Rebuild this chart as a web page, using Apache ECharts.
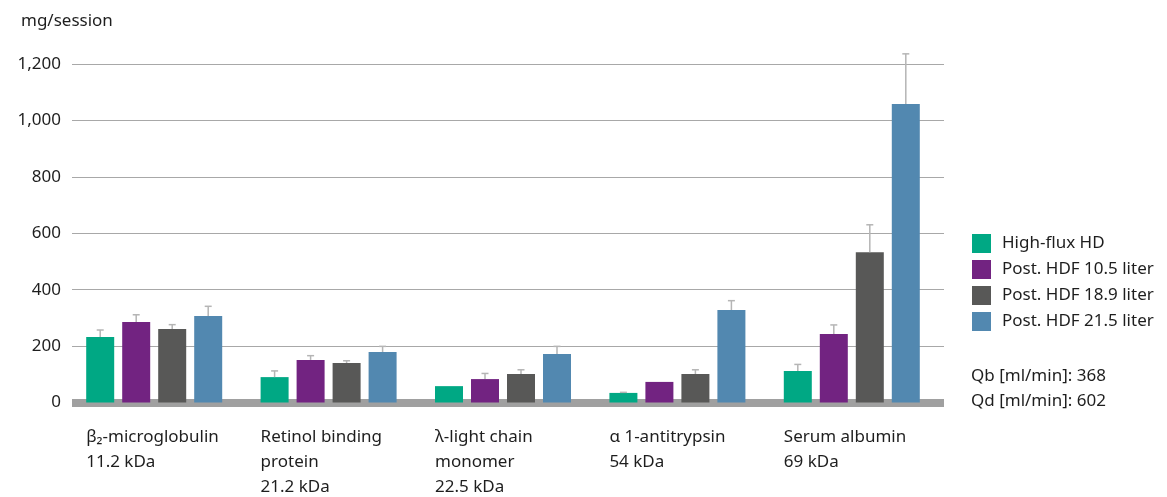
<!DOCTYPE html>
<html style="height: 100%">
<head>
<meta charset="utf-8">
<script src="https://cdn.jsdelivr.net/npm/echarts@6/dist/echarts.min.js"></script>
</head>
<body style="height: 100%; margin: 0; background: #fff">
<div id="container" style="width: 1167px; height: 497px"></div>
<script type="text/javascript">
// categories (molecule + weight)
var categories = [
    'β₂-microglobulin\n11.2 kDa',
    'Retinol binding\nprotein\n21.2 kDa',
    'λ-light chain\nmonomer\n22.5 kDa',
    'α 1-antitrypsin\n54 kDa',
    'Serum albumin\n69 kDa'
];
var seriesNames = ['High-flux HD', 'Post. HDF 10.5 liter', 'Post. HDF 18.9 liter', 'Post. HDF 21.5 liter'];
// mean values, mg/session
var highFlux = [232, 90, 58, 34, 112];
var hdf105 = [285, 151, 83, 73, 243];
var hdf189 = [261, 140, 101, 101, 533];
var hdf215 = [307, 179, 172, 328, 1058];
// top of error bar (mean + sd)
var highFluxErr = [257, 112, 58, 36, 135];
var hdf105Err = [311, 166, 103, 73, 275];
var hdf189Err = [276, 148, 116, 116, 630];
var hdf215Err = [341, 199, 199, 361, 1236];
var yTicks = [0, 200, 400, 600, 800, 1000, 1200];

var colors = ['#00a884', '#722381', '#585857', '#5288b0'];
var BAR_W = 28, GAP = 8;
var FONT = '"Noto Sans", sans-serif';

var values = [highFlux, hdf105, hdf189, hdf215];
var errs = [highFluxErr, hdf105Err, hdf189Err, hdf215Err];

var errData = [];
for (var s = 0; s < 4; s++) {
    for (var c = 0; c < categories.length; c++) {
        errData.push([c, s, values[s][c], errs[s][c]]);
    }
}

var dom = document.getElementById('container');
var myChart = echarts.init(dom);

var series = [];
for (var i = 0; i < 4; i++) {
    series.push({
        name: seriesNames[i],
        type: 'bar',
        xAxisIndex: 1,
        yAxisIndex: 1,
        barWidth: BAR_W,
        barGap: (GAP / BAR_W * 100) + '%',
        itemStyle: { color: colors[i] },
        data: values[i],
        z: 3
    });
}

// error bars (upper only)
series.push({
    type: 'custom',
    xAxisIndex: 1,
    yAxisIndex: 1,
    clip: false,
    silent: true,
    z: 4,
    data: errData,
    encode: { x: 0, y: 3 },
    renderItem: function (params, api) {
        var c = api.value(0), s = api.value(1);
        var dx = (s - 1.5) * (BAR_W + GAP);
        var p0 = api.coord([c, api.value(2)]);
        var p1 = api.coord([c, api.value(3)]);
        var x = p0[0] + dx;
        if (Math.abs(p1[1] - p0[1]) < 0.5) return null;
        var st = { stroke: '#b5b5b5', lineWidth: 1.5 };
        return {
            type: 'group',
            children: [
                { type: 'line', shape: { x1: x, y1: p0[1], x2: x, y2: p1[1] }, style: st },
                { type: 'line', shape: { x1: x - 3.5, y1: p1[1], x2: x + 3.5, y2: p1[1] }, style: st }
            ]
        };
    }
});

// category labels, left aligned with the bar group
series.push({
    type: 'custom',
    xAxisIndex: 1,
    yAxisIndex: 1,
    clip: false,
    silent: true,
    data: categories.map(function (c, i) { return [i, 0]; }),
    renderItem: function (params, api) {
        var p = api.coord([api.value(0), 0]);
        var half = (4 * BAR_W + 3 * GAP) / 2;
        return {
            type: 'text',
            x: p[0] - half,
            y: p[1] + 22,
            style: {
                text: categories[api.value(0)],
                fill: '#1e1e1e',
                font: '17px ' + FONT,
                lineHeight: 25,
                align: 'left',
                verticalAlign: 'top'
            }
        };
    }
});

option = {
    animation: false,
    color: colors,
    title: [{
        text: 'mg/session',
        left: 16,
        top: 8,
        textStyle: { fontFamily: FONT, fontSize: 17, fontWeight: 'normal', color: '#1e1e1e' }
    }, {
        text: 'Qb [ml/min]: 368\nQd [ml/min]: 602',
        left: 971,
        top: 364,
        padding: 0,
        textStyle: { fontFamily: FONT, fontSize: 17, fontWeight: 'normal', color: '#1e1e1e', lineHeight: 25 }
    }],
    legend: {
        data: seriesNames,
        orient: 'vertical',
        left: 972,
        top: 234,
        padding: 0,
        icon: 'rect',
        itemWidth: 19,
        itemHeight: 19,
        itemGap: 7,
        textStyle: { fontFamily: FONT, fontSize: 17, color: '#1e1e1e', padding: [0, 0, 0, 6] }
    },
    grid: [
        { left: 72, right: 223, top: 64, bottom: 94.5 },
        { left: 67, right: 228, top: 64, bottom: 94.5 }
    ],
    xAxis: [{
        type: 'category',
        gridIndex: 0,
        data: categories,
        offset: 4,
        axisLine: { lineStyle: { color: '#a0a0a0', width: 8, cap: 'butt' } },
        axisTick: { show: false },
        axisLabel: { show: false }
    }, {
        type: 'category',
        gridIndex: 1,
        data: categories,
        show: false
    }],
    yAxis: [{
        type: 'value',
        gridIndex: 0,
        min: yTicks[0],
        max: yTicks[yTicks.length - 1],
        interval: 200,
        axisLine: { show: false },
        axisTick: { show: false },
        axisLabel: {
            margin: 11,
            fontFamily: FONT,
            fontSize: 17,
            color: '#1e1e1e',
            formatter: function (v) { return v.toLocaleString('en-US'); }
        },
        splitLine: { lineStyle: { color: '#a8a8a8', width: 1 } }
    }, {
        type: 'value',
        gridIndex: 1,
        min: yTicks[0],
        max: yTicks[yTicks.length - 1],
        interval: 200,
        show: false
    }],
    series: series
};

myChart.setOption(option);
</script>
</body>
</html>
